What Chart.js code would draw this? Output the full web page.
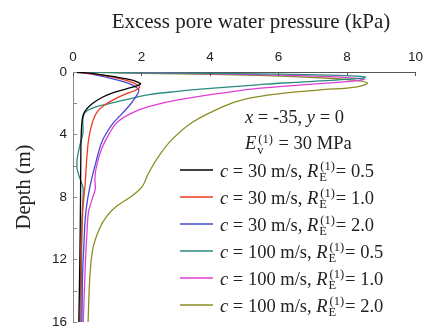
<!DOCTYPE html>
<html>
<head>
<meta charset="utf-8">
<script src="https://cdn.jsdelivr.net/npm/chart.js@4.4.1/dist/chart.umd.min.js"></script>
<style>
  html, body { margin: 0; padding: 0; background: #fff; overflow: hidden; }
  #wrap { width: 430px; height: 329px; overflow: hidden; position: relative; }
  canvas { display: block; }
</style>
</head>
<body>
<div id="wrap"><canvas id="chart" width="430" height="336"></canvas></div>
<script>
// Axis titles and ticks
const xTitle = 'Excess pore water pressure (kPa)';
const yTitle = 'Depth (m)';
const xTickValues = [0, 2, 4, 6, 8, 10];
const yTickValues = [0, 2, 4, 6, 8, 10, 12, 14, 16];
const yLabelledTicks = [0, 4, 8, 12, 16];

// Case annotation
const caseX = '-35';
const caseY = '0';
const caseEv = '30 MPa';

// Series: wave speed c (m/s) and modulus ratio R_E
const speeds = [30, 30, 30, 100, 100, 100];
const ratios = ['0.5', '1.0', '2.0', '0.5', '1.0', '2.0'];
const colors = ['#000000', '#ee3a1c', '#4848d6', '#2a8a80', '#e03ed6', '#8c8c24'];

// Pressure (kPa) and depth (m) sampled along each profile
const p_c30_r05 = [0, 0.6, 1.2, 1.7, 1.92, 1.97, 1.85, 1.56, 1.2, 0.87, 0.55, 0.35, 0.28, 0.25, 0.23, 0.22, 0.2, 0.17];
const d_c30_r05 = [0, 0.1, 0.3, 0.5, 0.68, 0.78, 0.9, 1.08, 1.3, 1.6, 2.05, 2.5, 2.9, 3.5, 5, 8, 12, 16];

const p_c30_r10 = [0, 0.6, 1.2, 1.65, 1.9, 1.94, 1.8, 1.55, 1.2, 0.9, 0.69, 0.57, 0.5, 0.45, 0.4, 0.35, 0.29, 0.25, 0.22, 0.2];
const d_c30_r10 = [0, 0.12, 0.35, 0.6, 0.85, 1.0, 1.2, 1.4, 1.75, 2.15, 2.6, 3.2, 3.8, 4.4, 5.6, 7.3, 8.7, 11, 13.5, 16];

const p_c30_r20 = [0, 0.5, 1.0, 1.45, 1.75, 1.92, 1.86, 1.7, 1.42, 1.16, 0.95, 0.82, 0.69, 0.55, 0.43, 0.36, 0.32, 0.28, 0.26];
const d_c30_r20 = [0, 0.12, 0.35, 0.6, 0.85, 1.15, 1.5, 2.0, 2.7, 3.3, 4.0, 4.6, 5.6, 6.8, 8.1, 9.3, 11, 13, 16];

const p_c100_r05 = [0, 1, 3, 5.4, 7.5, 8.3, 8.55, 8.3, 7, 6, 5.4, 4, 3, 2.23, 1.55, 1.0, 0.58, 0.35, 0.29, 0.29, 0.2, 0.12, 0.12, 0.2, 0.29, 0.29, 0.26, 0.25, 0.23];
const d_c100_r05 = [0, 0.03, 0.07, 0.12, 0.2, 0.27, 0.35, 0.42, 0.6, 0.72, 0.82, 1.05, 1.25, 1.45, 1.77, 2.05, 2.3, 2.6, 3.0, 3.9, 4.7, 5.6, 6.2, 6.8, 7.4, 8.1, 9.5, 12, 16];

const p_c100_r10 = [0, 2, 5.4, 7.5, 8.5, 8.3, 7.5, 6.5, 5.4, 4.5, 3.1, 2.23, 1.74, 1.3, 1.07, 0.84, 0.69, 0.64, 0.65, 0.55, 0.45, 0.41, 0.36, 0.3];
const d_c100_r10 = [0, 0.06, 0.17, 0.3, 0.46, 0.55, 0.7, 0.85, 1.05, 1.3, 1.77, 2.2, 2.6, 3.2, 3.9, 4.9, 6.0, 6.8, 7.5, 8.2, 9.0, 10.2, 12.3, 16];

const p_c100_r20 = [0, 2, 5.4, 7.5, 8.3, 8.6, 8.3, 7.2, 6, 5, 4.4, 3.5, 2.9, 2.5, 2.2, 2.03, 1.74, 1.27, 1.0, 0.78, 0.58, 0.49, 0.44];
const d_c100_r20 = [0, 0.08, 0.22, 0.4, 0.55, 0.7, 0.95, 1.15, 1.4, 1.75, 2.2, 3.2, 4.3, 5.4, 6.5, 7.3, 7.9, 8.6, 9.2, 10, 11.3, 13.2, 16];

const pressures = [p_c30_r05, p_c30_r10, p_c30_r20, p_c100_r05, p_c100_r10, p_c100_r20];
const depths = [d_c30_r05, d_c30_r10, d_c30_r20, d_c100_r05, d_c100_r10, d_c100_r20];

const SERIF = '"Liberation Serif", "Times New Roman", serif';
const SANS = '"Liberation Sans", Arial, sans-serif';

const datasets = pressures.map((p, i) => ({
  label: 'c = ' + speeds[i] + ' m/s, RE(1) = ' + ratios[i],
  data: p.map((v, k) => ({ x: v, y: depths[i][k] })),
  borderColor: colors[i],
  backgroundColor: colors[i],
  borderWidth: 1.3,
  pointRadius: 0,
  showLine: true,
  fill: false,
  tension: 0.35
}));

// Draws a run of text pieces; pieces can be italic, or a stacked subscript/superscript pair.
function drawRun(ctx, x, y, pieces) {
  ctx.textBaseline = 'alphabetic';
  ctx.textAlign = 'left';
  for (const pc of pieces) {
    if (pc.stack) {
      ctx.font = '12.5px ' + SERIF;
      const w1 = ctx.measureText(pc.sub).width;
      const w2 = ctx.measureText(pc.sup).width;
      ctx.fillText(pc.sub, x + 1, y + 4.5);
      ctx.fillText(pc.sup, x + 2, y - 6.5);
      x += Math.max(w1, w2) + 3;
    } else {
      ctx.font = (pc.i ? 'italic ' : '') + '18.5px ' + SERIF;
      ctx.fillText(pc.t, x, y);
      x += ctx.measureText(pc.t).width;
    }
  }
}

const overlay = {
  id: 'overlay',
  afterDraw(chart) {
    const ctx = chart.ctx;
    const ca = chart.chartArea;
    const xs = chart.scales.x;
    const ys = chart.scales.y;
    ctx.save();

    // inward tick marks
    ctx.lineWidth = 1;
    ctx.strokeStyle = '#555';
    for (const v of xTickValues) {
      const px = Math.round(xs.getPixelForValue(v)) + 0.5;
      ctx.beginPath(); ctx.moveTo(px, ca.top); ctx.lineTo(px, ca.top + 4); ctx.stroke();
    }
    ctx.strokeStyle = '#888';
    for (const v of yTickValues) {
      const py = Math.round(ys.getPixelForValue(v)) + 0.5;
      ctx.beginPath(); ctx.moveTo(ca.left, py); ctx.lineTo(ca.left + 4, py); ctx.stroke();
    }

    // axis titles
    ctx.fillStyle = '#222';
    ctx.font = '21px ' + SERIF;
    ctx.textAlign = 'center';
    ctx.textBaseline = 'middle';
    ctx.fillText(xTitle, ca.left + 178, 22);
    ctx.save();
    ctx.translate(25, ca.top + 115);
    ctx.rotate(-Math.PI / 2);
    ctx.font = '20.5px ' + SERIF;
    ctx.fillText(yTitle, 0, 0);
    ctx.restore();

    // case annotation and legend
    ctx.fillStyle = '#222';
    const tx = ca.left + 172;
    drawRun(ctx, tx, ca.top + 51, [
      { t: 'x', i: true }, { t: ' = ' + caseX + ', ' }, { t: 'y', i: true }, { t: ' = ' + caseY }
    ]);
    drawRun(ctx, tx, ca.top + 77, [
      { t: 'E', i: true }, { stack: true, sub: 'v', sup: '(1)' }, { t: ' = ' + caseEv }
    ]);
    const rowTop = ca.top + 98;
    for (let i = 0; i < speeds.length; i++) {
      const cy = rowTop + i * 27;
      ctx.strokeStyle = colors[i];
      ctx.lineWidth = 1.5;
      ctx.beginPath();
      ctx.moveTo(ca.left + 107, cy);
      ctx.lineTo(ca.left + 140, cy);
      ctx.stroke();
      ctx.fillStyle = '#222';
      drawRun(ctx, ca.left + 147, cy + 6.5, [
        { t: 'c', i: true }, { t: ' = ' + speeds[i] + ' m/s, ' },
        { t: 'R', i: true }, { stack: true, sub: 'E', sup: '(1)' }, { t: '= ' + ratios[i] }
      ]);
    }
    ctx.restore();
  }
};

new Chart(document.getElementById('chart'), {
  type: 'scatter',
  data: { datasets },
  options: {
    responsive: false,
    animation: false,
    events: [],
    layout: { padding: { top: 0, left: 0, right: 12, bottom: 11 } },
    plugins: { legend: { display: false }, tooltip: { enabled: false } },
    scales: {
      x: {
        type: 'linear',
        position: 'top',
        min: 0, max: 10,
        afterBuildTicks(scale) { scale.ticks = xTickValues.map(v => ({ value: v })); },
        afterFit(scale) { scale.height = 72; },
        ticks: { color: '#222', font: { family: SANS, size: 13.5 }, padding: 7, maxRotation: 0 },
        grid: { display: false, drawTicks: false },
        border: { display: true, color: '#555', width: 1 }
      },
      y: {
        type: 'linear',
        reverse: true,
        min: 0, max: 16,
        afterBuildTicks(scale) { scale.ticks = yTickValues.map(v => ({ value: v })); },
        afterFit(scale) { scale.width = 73; },
        ticks: {
          color: '#222', font: { family: SANS, size: 13.5 }, padding: 6,
          callback: v => (yLabelledTicks.includes(v) ? String(v) : '')
        },
        grid: { display: false, drawTicks: false },
        border: { display: true, color: '#888', width: 1 }
      }
    }
  },
  plugins: [overlay]
});
</script>
</body>
</html>
